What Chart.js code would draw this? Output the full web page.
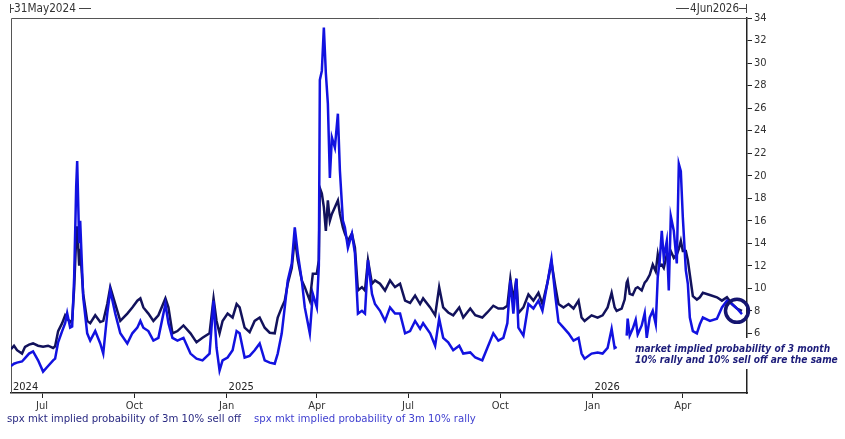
<!DOCTYPE html>
<html><head><meta charset="utf-8">
<script src="https://cdn.jsdelivr.net/npm/chart.js@4.4.0/dist/chart.umd.min.js"></script>
<style>html,body{margin:0;padding:0;background:#fff;}#wrap{position:relative;width:845px;height:439px;}</style>
</head><body><div id="wrap"><canvas id="c" width="845" height="439"></canvas></div>
<script>
const startDate = '2024-05-31';
const endDate = '2026-06-04';
const topLeftLabel = '31May2024';
const topRightLabel = '4Jun2026';
const seriesNames = ['spx mkt implied probability of 3m 10% sell off', 'spx mkt implied probability of 3m 10% rally'];
const monthTickDates = ['2024-07-01','2024-10-01','2025-01-01','2025-04-01','2025-07-01','2025-10-01','2026-01-01','2026-04-01'];
const monthTickLabels = ['Jul','Oct','Jan','Apr','Jul','Oct','Jan','Apr'];
const yearLabels = ['2024','2025','2026'];
const yearLabelDates = ['2024-05-31','2025-01-01','2026-01-01'];
const yTicks = [6,8,10,12,14,16,18,20,22,24,26,28,30,32,34];
const annotationLines = ['market implied probability of 3 month', '10% rally and 10% sell off are the same'];
const circleDate = '2026-05-25';
const circleValue = 8.0;

const dates = [
'2024-05-31','2024-06-03','2024-06-06','2024-06-11','2024-06-14','2024-06-18','2024-06-22','2024-06-27','2024-07-02','2024-07-07',
'2024-07-12','2024-07-14','2024-07-17','2024-07-21','2024-07-24','2024-07-26','2024-07-29','2024-07-31','2024-08-02','2024-08-04',
'2024-08-05','2024-08-07','2024-08-08','2024-08-11','2024-08-15','2024-08-18','2024-08-23','2024-08-28','2024-08-31','2024-09-04',
'2024-09-07','2024-09-12','2024-09-17','2024-09-24','2024-09-29','2024-10-04','2024-10-07','2024-10-10','2024-10-15','2024-10-20',
'2024-10-25','2024-11-01','2024-11-04','2024-11-08','2024-11-13','2024-11-19','2024-11-26','2024-12-02','2024-12-08','2024-12-15',
'2024-12-19','2024-12-22','2024-12-25','2024-12-28','2025-01-02','2025-01-07','2025-01-11','2025-01-14','2025-01-19','2025-01-24',
'2025-01-29','2025-02-03','2025-02-08','2025-02-13','2025-02-18','2025-02-21','2025-02-25','2025-02-28','2025-03-03','2025-03-07',
'2025-03-10','2025-03-13','2025-03-17','2025-03-20','2025-03-25','2025-03-28','2025-04-01','2025-04-03','2025-04-04','2025-04-06',
'2025-04-08','2025-04-10','2025-04-12','2025-04-14','2025-04-16','2025-04-19','2025-04-22','2025-04-24','2025-04-27','2025-04-29',
'2025-05-02','2025-05-06','2025-05-09','2025-05-12','2025-05-16','2025-05-19','2025-05-22','2025-05-26','2025-05-29','2025-06-03',
'2025-06-08','2025-06-13','2025-06-18','2025-06-23','2025-06-28','2025-07-03','2025-07-08','2025-07-13','2025-07-16','2025-07-23',
'2025-07-28','2025-08-01','2025-08-05','2025-08-10','2025-08-15','2025-08-21','2025-08-25','2025-09-01','2025-09-06','2025-09-13',
'2025-09-18','2025-09-24','2025-09-29','2025-10-04','2025-10-08','2025-10-11','2025-10-14','2025-10-17','2025-10-19','2025-10-24',
'2025-10-29','2025-11-03','2025-11-08','2025-11-12','2025-11-17','2025-11-21','2025-11-25','2025-11-28','2025-12-03','2025-12-08',
'2025-12-13','2025-12-18','2025-12-21','2025-12-24','2025-12-31','2026-01-06','2026-01-11','2026-01-16','2026-01-20','2026-01-23',
'2026-01-25','2026-01-30','2026-02-02','2026-02-04','2026-02-05','2026-02-07','2026-02-10','2026-02-13','2026-02-15','2026-02-19',
'2026-02-22','2026-02-24','2026-02-27','2026-03-02','2026-03-05','2026-03-07','2026-03-09','2026-03-11','2026-03-13','2026-03-16',
'2026-03-18','2026-03-20','2026-03-23','2026-03-26','2026-03-28','2026-03-30','2026-04-01','2026-04-04','2026-04-06','2026-04-08',
'2026-04-11','2026-04-15','2026-04-18','2026-04-21','2026-04-28','2026-05-05','2026-05-10','2026-05-15','2026-05-20','2026-05-25',
'2026-05-30'
];

const sellOff = [
4.6,4.9,4.5,4.2,4.8,5.0,5.1,4.9,4.8,4.9,
4.7,4.85,6.2,6.9,7.6,7.3,7.0,7.2,10.0,14.5,
15.5,12.0,13.5,9.5,7.1,6.9,7.6,7.0,7.1,8.6,
10.1,8.6,7.1,7.75,8.3,8.9,9.1,8.3,7.75,7.1,
7.6,9.1,8.3,6.0,6.2,6.7,6.0,5.2,5.6,6.0,
9.1,7.1,6.0,7.1,7.75,7.4,8.6,8.3,6.5,6.1,
7.1,7.4,6.5,6.05,6.0,7.4,8.3,8.9,10.4,11.8,
14.5,12.5,10.7,10.1,8.9,11.3,11.3,12.5,18.9,18.4,
17.2,15.1,17.8,16.0,16.6,17.2,17.8,16.6,15.4,14.85,
14.2,14.85,13.6,9.8,10.1,9.8,12.5,10.4,10.7,10.4,
9.8,10.7,10.1,10.4,8.9,8.7,9.35,8.6,9.1,8.3,
7.6,10.1,8.3,7.85,7.6,8.3,7.4,8.2,7.6,7.4,
7.85,8.45,8.2,8.2,8.45,10.85,8.9,10.85,7.8,8.3,
9.45,8.9,9.6,8.6,10.5,12.3,10.1,8.6,8.3,8.6,
8.2,8.9,7.4,7.1,7.6,7.4,7.6,8.3,9.6,8.3,
8.0,8.2,9.0,10.5,10.7,9.5,9.4,10.0,10.1,9.8,
10.5,10.7,11.2,12.1,11.5,13.0,12.0,12.1,11.8,13.0,
12.5,13.3,12.7,13.0,13.5,14.2,13.3,13.3,12.5,11.2,
9.3,9.0,9.2,9.6,9.4,9.2,8.9,9.2,8.6,8.2,
8.0
];

const rally = [
3.1,3.3,3.4,3.5,3.8,4.2,4.4,3.6,2.6,3.1,
3.6,3.75,5.2,6.2,6.9,7.8,6.5,6.6,11.0,19.0,
21.3,14.0,16.0,9.2,6.0,5.35,6.2,5.1,4.2,7.75,
9.8,7.75,6.0,5.1,6.0,6.5,7.1,6.5,6.2,5.35,
5.6,8.6,6.9,5.6,5.35,5.6,4.2,3.75,3.6,4.2,
8.9,4.7,2.7,3.6,3.85,4.5,6.2,6.0,3.85,4.0,
4.5,5.1,3.6,3.4,3.3,4.2,6.0,8.3,10.7,12.2,
15.4,13.1,10.7,8.3,6.0,9.5,8.3,12.0,28.5,29.3,
33.15,29.1,26.4,19.8,23.4,22.5,25.5,20.45,16.0,15.4,
13.6,14.85,13.1,7.75,8.0,7.75,12.5,9.5,8.6,8.0,
7.1,8.3,7.75,7.75,6.0,6.2,7.1,6.4,6.9,6.0,
4.9,7.3,5.6,5.2,4.5,4.9,4.2,4.3,3.85,3.6,
4.7,6.0,5.35,5.6,6.9,10.7,7.75,10.85,6.5,5.8,
8.6,8.2,8.9,8.0,10.5,12.6,9.2,7.0,6.5,6.0,
5.35,5.6,4.2,3.75,4.2,4.3,4.2,4.7,6.4,4.7,
4.8,null,null,5.8,7.3,5.8,6.4,7.2,5.9,6.7,
7.8,5.6,7.4,8.0,6.8,11.0,12.5,15.1,12.7,14.2,
9.8,16.4,15.1,12.2,21.05,20.4,16.3,11.6,10.4,7.4,
6.2,6.0,6.8,7.4,7.1,7.3,8.3,8.9,8.6,8.2,
7.7
];

const DAY = 86400000;
const t0 = Date.parse(startDate);
const dayOf = s => (Date.parse(s) - t0) / DAY;

const tickFont = { family: "'DejaVu Sans Condensed','DejaVu Sans',sans-serif", size: 11 };
const darkColor = '#12125c';
const blueColor = '#1212e0';

function fitFont(ctx, text, style, family, targetW, base) {
  ctx.font = style + ' ' + base + 'px ' + family;
  const w = ctx.measureText(text).width;
  const size = base * targetW / w;
  ctx.font = style + ' ' + size.toFixed(2) + 'px ' + family;
}

const decor = {
  id: 'decor',
  beforeDatasetsDraw(chart) {
    const { ctx, chartArea: a } = chart;
    ctx.save();
    ctx.strokeStyle = '#555';
    ctx.lineWidth = 1;
    ctx.beginPath();
    ctx.moveTo(a.left + 0.5, a.bottom);
    ctx.lineTo(a.left + 0.5, a.top + 0.5);
    ctx.lineTo(a.right, a.top + 0.5);
    ctx.stroke();
    ctx.restore();
  },
  afterDraw(chart) {
    const { ctx, chartArea: a, scales } = chart;
    const fam = "'DejaVu Sans Condensed','DejaVu Sans',sans-serif";
    ctx.save();
    // top labels with range brackets
    ctx.strokeStyle = '#444'; ctx.lineWidth = 1; ctx.fillStyle = '#333';
    ctx.textBaseline = 'middle';
    const ty = 8.5;
    const xl = scales.x.getPixelForValue(0), xr = scales.x.getPixelForValue(dayOf(endDate));
    ctx.beginPath();
    ctx.moveTo(xl - 0.5, 4); ctx.lineTo(xl - 0.5, 13);
    ctx.moveTo(xl, ty); ctx.lineTo(xl + 3, ty);
    ctx.stroke();
    fitFont(ctx, topLeftLabel, '', fam, 62, 11);
    ctx.textAlign = 'left';
    ctx.fillText(topLeftLabel, xl + 3, ty + 0.5);
    ctx.beginPath(); ctx.moveTo(xl + 68, ty); ctx.lineTo(xl + 80, ty); ctx.stroke();
    ctx.beginPath();
    ctx.moveTo(xr - 0.5, 4); ctx.lineTo(xr - 0.5, 13);
    ctx.moveTo(xr, ty); ctx.lineTo(xr - 8, ty);
    ctx.moveTo(xr - 58, ty); ctx.lineTo(xr - 71, ty);
    ctx.stroke();
    fitFont(ctx, topRightLabel, '', fam, 49, 11);
    ctx.textAlign = 'right';
    ctx.fillText(topRightLabel, xr - 8, ty + 0.5);

    // year labels inside the plot
    ctx.textAlign = 'left'; ctx.textBaseline = 'alphabetic';
    ctx.font = '11px ' + fam; ctx.fillStyle = '#222';
    yearLabels.forEach((t, i) => {
      const x = scales.x.getPixelForValue(dayOf(yearLabelDates[i]));
      ctx.fillText(t, x + 2, a.bottom - 3);
    });

    // circle highlight
    const cx = scales.x.getPixelForValue(dayOf(circleDate));
    const cy = scales.y.getPixelForValue(circleValue);
    ctx.strokeStyle = '#141470'; ctx.lineWidth = 3.5;
    ctx.beginPath(); ctx.arc(cx, cy, 11.5, 0, Math.PI * 2); ctx.stroke();

    // annotation with white box
    ctx.fillStyle = '#fff';
    ctx.fillRect(631, 338, 211, 31);
    ctx.fillStyle = '#1c1c7a';
    ctx.textBaseline = 'middle'; ctx.textAlign = 'left';
    fitFont(ctx, annotationLines[1], 'italic bold', fam, 203, 11);
    ctx.fillText(annotationLines[0], 635, 349);
    ctx.fillText(annotationLines[1], 635, 360.5);

    // legend
    fitFont(ctx, seriesNames[0], '', fam, 234, 11);
    ctx.fillStyle = '#2a2a82';
    ctx.fillText(seriesNames[0], 7, 419);
    fitFont(ctx, seriesNames[1], '', fam, 222, 11);
    ctx.fillStyle = '#4040d0';
    ctx.fillText(seriesNames[1], 254, 419);
    ctx.restore();
  }
};

new Chart(document.getElementById('c'), {
  type: 'line',
  data: {
    datasets: [
      { label: seriesNames[0], data: dates.map((d, i) => ({ x: dayOf(d), y: sellOff[i] })),
        borderColor: darkColor, borderWidth: 2.5, pointRadius: 0, tension: 0, order: 1, spanGaps: false },
      { label: seriesNames[1], data: dates.map((d, i) => ({ x: dayOf(d), y: rally[i] })),
        borderColor: blueColor, borderWidth: 2.5, pointRadius: 0, tension: 0, order: 0, spanGaps: false }
    ]
  },
  options: {
    responsive: false, animation: false, devicePixelRatio: 1,
    layout: { padding: { left: 11, top: 18, right: 0, bottom: 0 } },
    plugins: { legend: { display: false }, tooltip: { enabled: false } },
    scales: {
      x: {
        type: 'linear', position: 'bottom', min: 0, max: dayOf(endDate),
        afterBuildTicks: s => { s.ticks = monthTickDates.map(d => ({ value: dayOf(d) })); },
        afterFit: s => { s.height = 46; },
        ticks: { callback: (v, i) => monthTickLabels[i], autoSkip: false, maxRotation: 0, font: tickFont, color: '#333', padding: 2 },
        grid: { drawOnChartArea: false, drawTicks: true, tickLength: 5, color: '#222' },
        border: { color: '#222', width: 1.5 }
      },
      y: {
        position: 'right', min: 0.7, max: 34,
        afterBuildTicks: s => { s.ticks = yTicks.map(v => ({ value: v })); },
        afterFit: s => { s.width = 98; },
        ticks: { font: tickFont, color: '#333', padding: 2 },
        grid: { drawOnChartArea: false, drawTicks: true, tickLength: 5, color: '#222' },
        border: { color: '#222', width: 1.5 }
      }
    }
  },
  plugins: [decor]
});
</script></body></html>
